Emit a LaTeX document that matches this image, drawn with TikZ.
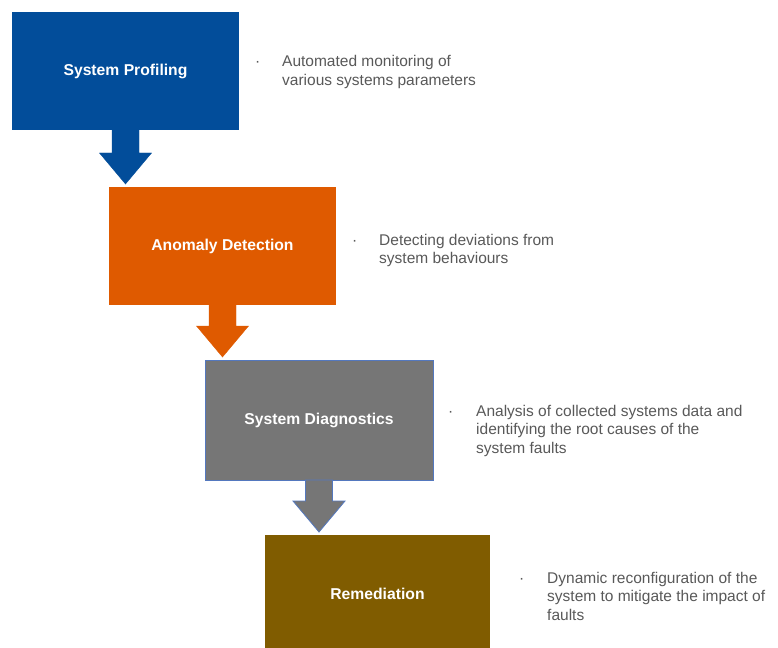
\documentclass[tikz,border=0pt]{standalone}
\usepackage{fontspec}
\setmainfont{Liberation Sans}
\usetikzlibrary{calc}

\definecolor{profblue}{RGB}{2,77,154}
\definecolor{anomorange}{RGB}{223,90,0}
\definecolor{diaggray}{RGB}{118,118,118}
\definecolor{remedbrown}{RGB}{128,92,0}
\definecolor{notegray}{RGB}{89,89,89}
\definecolor{edgeblue}{RGB}{84,120,190}

% block arrow from the bottom of one stage down to the next stage
\newcommand{\blockarrow}[3]{%
  \filldraw[#3]
    ($(#1.south)+(-\shaftw/2,0)$)
    -- ($(#1.south |- #2.north)+(-\shaftw/2,-\headl-\tipgap)$)
    -- ($(#1.south |- #2.north)+(-\headw/2,-\headl-\tipgap)$)
    -- ($(#1.south |- #2.north)+(0,-\tipgap)$)
    -- ($(#1.south |- #2.north)+(\headw/2,-\headl-\tipgap)$)
    -- ($(#1.south |- #2.north)+(\shaftw/2,-\headl-\tipgap)$)
    -- ($(#1.south)+(\shaftw/2,0)$) -- cycle;}

\begin{document}
\begin{tikzpicture}[x=1pt, y=-1pt,
    stage/.style={minimum width=227pt, minimum height=118pt, inner sep=0pt,
      outer sep=0pt, text=white, font=\fontsize{15.7}{19}\selectfont\bfseries},
    note/.style={anchor=base west, align=left, inner sep=0pt, text=notegray,
      font=\fontsize{15.5}{18.5}\selectfont},
    bulletdot/.style={anchor=base west, inner sep=0pt, text=notegray,
      font=\fontsize{15.5}{18.5}\selectfont}]
    \useasboundingbox[fill=white] (0,0) rectangle (778,647);

    % arrow sizes
    \pgfmathsetmacro{\shaftw}{27} % shaft width
    \pgfmathsetmacro{\headw}{52} % head width
    \pgfmathsetmacro{\headl}{31} % head length
    \pgfmathsetmacro{\tipgap}{3} % space between tip and next stage

    % the four stages
    \node[stage, fill=profblue] (profiling) at (125.5,71) {System Profiling};
    \node[stage, fill=anomorange] (anomaly) at (222.5,246) {Anomaly Detection};
    \node[stage, fill=diaggray, draw=edgeblue, line width=0.8pt,
      minimum width=228pt, minimum height=120pt] (diagnostics) at (319,420) {System Diagnostics};
    \node[stage, fill=remedbrown, minimum width=225pt] (remediation) at (377.5,594) {Remediation};

    % arrows between the stages
    \blockarrow{profiling}{anomaly}{profblue}
    \blockarrow{anomaly}{diagnostics}{anomorange}
    \blockarrow{diagnostics}{remediation}{fill=diaggray, draw=edgeblue, line width=0.8pt}

    % notes beside each stage (placed at the baseline of their last line)
    \node[bulletdot] (dot1) at (255,67) {·};
    \node[note] (note1) at (282,85.5) {Automated monitoring of\\various systems parameters};
    \node[bulletdot] (dot2) at (352,245) {·};
    \node[note] (note2) at (379,263.5) {Detecting deviations from\\system behaviours};
    \node[bulletdot] (dot3) at (448,416) {·};
    \node[note] (note3) at (476,453) {Analysis of collected systems data and\\identifying the root causes of the\\system faults};
    \node[bulletdot] (dot4) at (519,583) {·};
    \node[note] (note4) at (547,620) {Dynamic reconfiguration of the\\system to mitigate the impact of\\faults};
\end{tikzpicture}
\end{document}
